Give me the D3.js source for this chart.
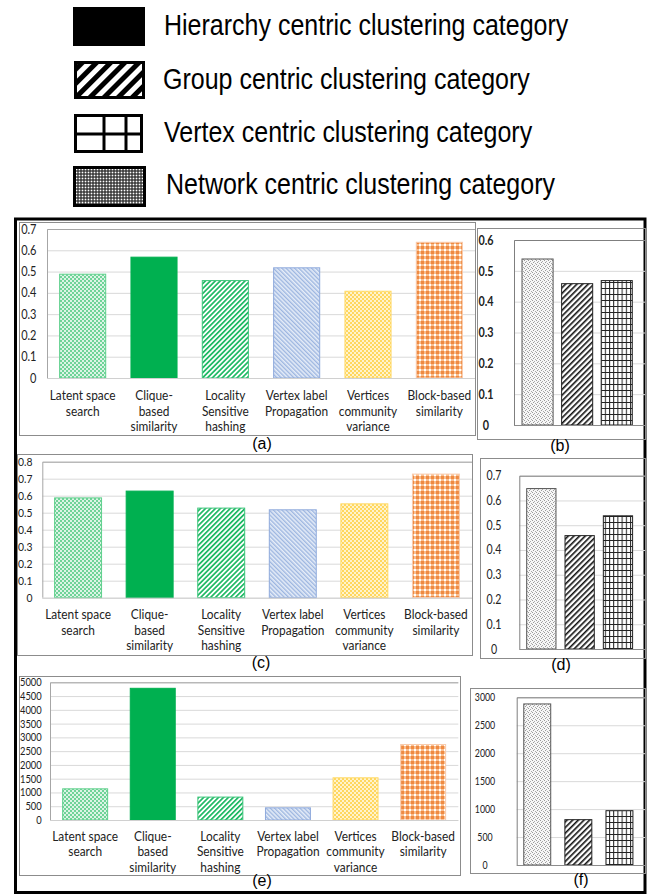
<!DOCTYPE html>
<html>
<head>
<meta charset="utf-8">
<script src="https://cdn.jsdelivr.net/npm/d3@7"></script>
<style>
  body { margin: 0; background: #fff; }
  svg { display: block; }
</style>
</head>
<body>
<script>
// data
const legendLabels = [
  "Hierarchy centric clustering category",
  "Group centric clustering category",
  "Vertex centric clustering category",
  "Network centric clustering category"
];
const categories = [
  ["Latent space", "search"],
  ["Clique-", "based", "similarity"],
  ["Locality", "Sensitive", "hashing"],
  ["Vertex label", "Propagation"],
  ["Vertices", "community", "variance"],
  ["Block-based", "similarity"]
];
const valuesA = [0.49, 0.57, 0.46, 0.52, 0.41, 0.64];
const valuesC = [0.59, 0.63, 0.53, 0.52, 0.555, 0.73];
const valuesE = [1150, 4800, 850, 460, 1550, 2760];
const groupB = [0.54, 0.46, 0.47];
const groupD = [0.65, 0.46, 0.54];
const groupF = [2890, 820, 980];
const ticksA = [0, 0.1, 0.2, 0.3, 0.4, 0.5, 0.6, 0.7];
const ticksB = [0, 0.1, 0.2, 0.3, 0.4, 0.5, 0.6];
const ticksC = [0, 0.1, 0.2, 0.3, 0.4, 0.5, 0.6, 0.7, 0.8];
const ticksD = [0, 0.1, 0.2, 0.3, 0.4, 0.5, 0.6, 0.7];
const ticksE = [0, 500, 1000, 1500, 2000, 2500, 3000, 3500, 4000, 4500, 5000];
const ticksF = [0, 500, 1000, 1500, 2000, 2500, 3000];

const width = 650, height = 896;
const svg = d3.select("body").append("svg")
  .attr("width", width)
  .attr("height", height);
const defs = svg.append("defs");

function pattern(id, w, h, rot, draw) {
  const p = defs.append("pattern")
    .attr("id", id)
    .attr("patternUnits", "userSpaceOnUse")
    .attr("width", w)
    .attr("height", h);
  if (rot) p.attr("patternTransform", `rotate(${rot})`);
  draw(p);
}
const r = (p, x, y, w, h, fill) =>
  p.append("rect").attr("x", x).attr("y", y).attr("width", w).attr("height", h).attr("fill", fill);

// coloured fills for the 6 methods
pattern("gDots", 4, 4, 0, p => { r(p, 0, 0, 4, 4, "#dcf4e5"); r(p, 0, 0, 2, 2, "#6fd398"); r(p, 2, 2, 2, 2, "#6fd398"); });
pattern("gStripe", 3.5, 4, 45, p => { r(p, 0, 0, 3.5, 4, "#fff"); r(p, 0, 0, 1.7, 4, "#1cb862"); });
pattern("bDiag", 3, 3, -45, p => { r(p, 0, 0, 3, 3, "#e6edf8"); r(p, 0, 0, 1.4, 3, "#9db6e0"); });
pattern("yCheck", 4, 4, 0, p => { r(p, 0, 0, 4, 4, "#fff3cc"); r(p, 0, 0, 2, 2, "#ffd75e"); r(p, 2, 2, 2, 2, "#ffd75e"); });
pattern("oPlaid", 5, 5, 0, p => {
  r(p, 0, 0, 5, 5, "#fff");
  r(p, 0, 1, 5, 3, "#f9bf90");
  r(p, 1, 0, 3, 5, "#f9bf90");
  r(p, 1, 1, 3, 3, "#ef8a42");
});
// black & white fills
pattern("kStip", 4, 4, 0, p => {
  r(p, 0, 0, 4, 4, "#f6f6f6");
  r(p, 0, 0, 1, 1, "#9a9a9a"); r(p, 2, 1, 1, 1, "#aaa");
  r(p, 1, 2, 1, 1, "#9a9a9a"); r(p, 3, 3, 1, 1, "#aaa");
});
pattern("kStripe", 4, 4, 45, p => { r(p, 0, 0, 4, 4, "#fff"); r(p, 0, 0, 1.6, 4, "#111"); });
pattern("kGrid", 4.2, 6, 0, p => { r(p, 0, 0, 4.2, 6, "#fff"); r(p, 0, 0, 1, 6, "#222"); r(p, 0, 0, 4.2, 1, "#222"); });
pattern("legStripe", 10, 10, 45, p => { r(p, 0, 0, 10, 10, "#fff"); r(p, 0, 0, 5, 10, "#000"); });
pattern("legDots", 3, 3, 0, p => { r(p, 0, 0, 3, 3, "#222"); r(p, 0.6, 0.6, 1.8, 1.8, "#fff"); });

const methodFill = ["url(#gDots)", "#00b050", "url(#gStripe)", "url(#bDiag)", "url(#yCheck)", "url(#oPlaid)"];
const methodStroke = ["#5fd08c", "#00b050", "#3cc47a", "#8faadc", "#ffd966", "#f8cbad"];
const groupFill = ["url(#kStip)", "url(#kStripe)", "url(#kGrid)"];

// legend
const legend = svg.append("g");
legend.append("rect").attr("x", 73).attr("y", 7).attr("width", 72).attr("height", 39).attr("fill", "#000");
legend.append("rect").attr("x", 75.5).attr("y", 62.5).attr("width", 68).attr("height", 35)
  .attr("fill", "url(#legStripe)").attr("stroke", "#000").attr("stroke-width", 3);
legend.append("rect").attr("x", 75.5).attr("y", 115.5).attr("width", 66).attr("height", 36)
  .attr("fill", "#fff").attr("stroke", "#000").attr("stroke-width", 3);
legend.selectAll(".gv").data([104, 126]).join("line")
  .attr("x1", d => d).attr("x2", d => d).attr("y1", 115).attr("y2", 152)
  .attr("stroke", "#000").attr("stroke-width", 3);
legend.append("line").attr("x1", 75).attr("x2", 142).attr("y1", 134).attr("y2", 134)
  .attr("stroke", "#000").attr("stroke-width", 3);
legend.append("rect").attr("x", 74.5).attr("y", 167.5).attr("width", 70).attr("height", 38)
  .attr("fill", "url(#legDots)").attr("stroke", "#000").attr("stroke-width", 3);
legend.selectAll(".lt").data(legendLabels).join("text")
  .attr("transform", (d, i) => `translate(${[164, 163, 164, 166][i]},${[35, 89, 142, 194][i]}) scale(1,1.2)`)
  .attr("font-family", "Liberation Sans, Arial, sans-serif")
  .attr("font-size", 25)
  .attr("fill", "#000")
  .text(d => d);

// outer frame
svg.append("rect").attr("x", 15.5).attr("y", 219).attr("width", 629.5).attr("height", 673.5)
  .attr("fill", "none").attr("stroke", "#000").attr("stroke-width", 3);

function panel(cfg) {
  const g = svg.append("g");
  g.append("rect")
    .attr("x", cfg.frame[0] + 0.5).attr("y", cfg.frame[1] + 0.5)
    .attr("width", cfg.frame[2] - cfg.frame[0]).attr("height", cfg.frame[3] - cfg.frame[1])
    .attr("fill", "none").attr("stroke", "#8c8c8c").attr("stroke-width", 1);

  const x = d3.scaleBand().domain(d3.range(cfg.values.length))
    .range([cfg.px0, cfg.px1]).paddingInner(cfg.pad).paddingOuter(cfg.padOuter);
  const y = d3.scaleLinear().domain([0, cfg.ticks[cfg.ticks.length - 1]]).range([cfg.py1, cfg.py0]);

  // gridlines
  g.append("g").attr("transform", `translate(${cfg.px0},0)`)
    .call(d3.axisLeft(y).tickValues(cfg.ticks).tickSize(-(cfg.borderX1 - cfg.px0)).tickFormat(""))
    .call(a => a.select(".domain").remove())
    .call(a => a.selectAll("line").attr("stroke", "#d9d9d9"));

  // plot border
  g.append("path")
    .attr("d", `M${cfg.borderX1},${y(cfg.ticks[cfg.ticks.length - 1]) + 0.5}H${cfg.px0 + 0.5}V${y(0)}`)
    .attr("fill", "none").attr("stroke", cfg.borderColor).attr("stroke-width", 1);

  g.selectAll(".bar").data(cfg.values).join("rect")
    .attr("x", (d, i) => x(i) + 0.5)
    .attr("y", d => y(d) + 0.5)
    .attr("width", x.bandwidth() - 1)
    .attr("height", d => y(0) - y(d) - 0.5)
    .attr("fill", (d, i) => cfg.fills[i])
    .attr("stroke", (d, i) => cfg.strokes[i])
    .attr("stroke-width", 1);

  // base line
  g.append("line").attr("x1", cfg.px0).attr("x2", cfg.borderX1)
    .attr("y1", y(0) + 0.5).attr("y2", y(0) + 0.5)
    .attr("stroke", cfg.axisColor).attr("stroke-width", 1);

  // tick labels (the source figure is squeezed sideways, so text is too)
  g.append("g").attr("transform", `translate(${cfg.labelX},0)`)
    .call(d3.axisLeft(y).tickValues(cfg.ticks).tickSize(0).tickPadding(0).tickFormat(cfg.fmt))
    .call(a => a.select(".domain").remove())
    .call(a => a.selectAll("text")
      .attr("x", 0)
      .attr("transform", `scale(${cfg.tickSx},1)`)
      .attr("text-anchor", cfg.anchor)
      .attr("fill", "#222")
      .attr("font-family", "Lato, Carlito, sans-serif")
      .attr("font-weight", cfg.bold ? "bold" : "normal")
      .attr("font-size", cfg.tickSize));

  // category labels
  if (cfg.cats) {
    const t = g.selectAll(".cat").data(cfg.cats).join("text")
      .attr("transform", (d, i) => `translate(${x(i) + x.bandwidth() / 2},${cfg.catY}) scale(0.85,1)`)
      .attr("text-anchor", "middle")
      .attr("font-family", "Lato, Carlito, sans-serif")
      .attr("font-size", cfg.catSize)
      .attr("fill", "#222");
    t.selectAll("tspan").data(d => d).join("tspan")
      .attr("x", 0)
      .attr("y", (d, j) => j * cfg.catLH)
      .text(d => d);
  }

  g.append("text")
    .attr("x", cfg.tag[1]).attr("y", cfg.tag[2])
    .attr("text-anchor", "middle")
    .attr("font-family", "Liberation Sans, Arial, sans-serif")
    .attr("font-size", 16)
    .attr("fill", "#000")
    .text(cfg.tag[0]);
}

const fmtDec = d => d === 0 ? "0" : d3.format(".1f")(d);
const fmtInt = d3.format("d");

panel({ frame: [19, 222, 475, 435], values: valuesA, ticks: ticksA, px0: 47, px1: 475, py0: 229, py1: 378,
  borderX1: 475, pad: 0.34, padOuter: 0.17, fills: methodFill, strokes: methodStroke,
  borderColor: "#a6a6a6", axisColor: "#d0d0d0", labelX: 36.5, anchor: "end", fmt: fmtDec,
  tickSize: 12.5, tickSx: 0.88,
  cats: categories, catSize: 14, catY: 400, catLH: 15.7, tag: ["(a)", 262, 449] });

panel({ frame: [477, 228, 645, 439], values: groupB, ticks: ticksB, px0: 514, px1: 640.3, py0: 240, py1: 425,
  borderX1: 645, pad: 0.19, padOuter: 0.19, fills: groupFill, strokes: ["#555", "#222", "#222"],
  borderColor: "#7f7f7f", axisColor: "#8c8c8c", labelX: 486, anchor: "middle", fmt: fmtDec,
  tickSize: 13.5, tickSx: 0.8, bold: true, tag: ["(b)", 560, 451] });

panel({ frame: [17, 454, 472, 655], values: valuesC, ticks: ticksC, px0: 42.3, px1: 471.7, py0: 461.7, py1: 597.7,
  borderX1: 472, pad: 0.33, padOuter: 0.165, fills: methodFill, strokes: methodStroke,
  borderColor: "#a6a6a6", axisColor: "#d0d0d0", labelX: 32.5, anchor: "end", fmt: fmtDec,
  tickSize: 11.5, tickSx: 0.9,
  cats: categories, catSize: 14, catY: 619, catLH: 15.6, tag: ["(c)", 261, 668] });

panel({ frame: [480, 458, 645, 658], values: groupD, ticks: ticksD, px0: 519.3, px1: 640, py0: 475.7, py1: 649,
  borderX1: 645, pad: 0.21, padOuter: 0.18, fills: groupFill, strokes: ["#555", "#222", "#222"],
  borderColor: "#7f7f7f", axisColor: "#8c8c8c", labelX: 494, anchor: "middle", fmt: fmtDec,
  tickSize: 12.5, tickSx: 0.85, tag: ["(d)", 561, 670] });

panel({ frame: [19, 676, 460, 875], values: valuesE, ticks: ticksE, px0: 50, px1: 458.3, py0: 682.3, py1: 820,
  borderX1: 458.3, pad: 0.32, padOuter: 0.18, fills: methodFill, strokes: methodStroke,
  borderColor: "#a6a6a6", axisColor: "#d0d0d0", labelX: 41.7, anchor: "end", fmt: fmtInt,
  tickSize: 11, tickSx: 0.85,
  cats: categories, catSize: 14, catY: 840.7, catLH: 15.5, tag: ["(e)", 262, 885.5] });

panel({ frame: [470, 688, 645, 873], values: groupF, ticks: ticksF, px0: 516.7, px1: 640, py0: 697.3, py1: 865,
  borderX1: 645, pad: 0.32, padOuter: 0.16, fills: groupFill, strokes: ["#555", "#222", "#222"],
  borderColor: "#7f7f7f", axisColor: "#8c8c8c", labelX: 485, anchor: "middle", fmt: fmtInt,
  tickSize: 11, tickSx: 0.8, tag: ["(f)", 581, 884.5] });
</script>
</body>
</html>
